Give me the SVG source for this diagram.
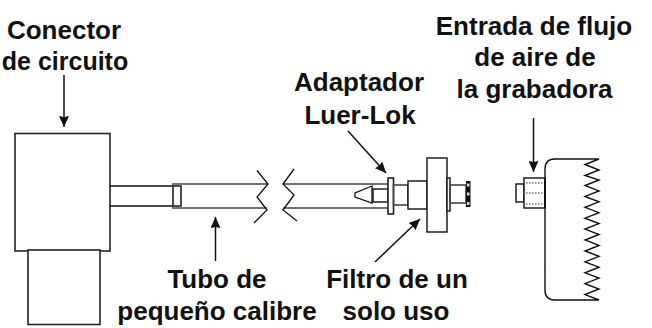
<svg xmlns="http://www.w3.org/2000/svg" width="652" height="328" viewBox="0 0 652 328">
<style>
text{font-family:"Liberation Sans",Arial,sans-serif;font-weight:700;font-size:26px;fill:#111;text-anchor:middle}
.s{fill:#fff;stroke:#111;stroke-width:1.4}
.t{fill:#fff;stroke:#222;stroke-width:1.6}
.l{fill:none;stroke:#111;stroke-width:1.3}
.w{fill:none;stroke:#444;stroke-width:1.6}
.a{fill:none;stroke:#111;stroke-width:1.5;marker-end:url(#ah)}
.d{fill:none;stroke:#333;stroke-width:1.2;stroke-dasharray:1.5 1.5}
</style>
<defs><marker id="ah" markerUnits="userSpaceOnUse" markerWidth="11" markerHeight="10" refX="11" refY="5" orient="auto"><path d="M0 0L11 5L0 10L1 5Z" fill="#111"/></marker></defs>
<g id="conector-circuito">
<rect class="t" x="15" y="133.500" width="95" height="117.500"/>
<rect class="t" x="28" y="250" width="72" height="74.500"/>
<text x="64" y="39">Conector</text><text x="65" y="70" style="font-size:25px">de circuito</text>
</g>
<g id="tubo">
<path class="l" d="M110 186H173M110 206H173"/>
<path class="w" d="M172 184H268M172 208H267M283 184H388M283 208H388"/>
<rect class="t" x="173" y="186" width="8" height="20" fill="none"/>
<path class="l" d="M257 170.500L268 184L257 197L267 210L254 223M294 169L283 184L294 195L283 210L297 221"/>
<text x="217" y="288">Tubo de</text><text x="217" y="320">pequeño calibre</text>
</g>
<g id="adaptador">
<path class="l" d="M372 186L355 193V197L372 203Z"/>
<rect class="s" x="373" y="189" width="15" height="13"/>
<rect class="t" x="388" y="178" width="5.500" height="36"/>
<text x="359" y="91">Adaptador</text><text x="360" y="124">Luer-Lok</text>
</g>
<g id="filtro">
<rect class="w" x="393.500" y="185" width="14.500" height="20"/>
<rect class="s" x="408" y="181" width="19" height="28"/>
<rect class="s" x="427" y="158" width="20" height="74"/>
<rect class="s" x="447" y="178" width="3" height="33"/>
<rect class="w" x="450" y="185" width="16" height="18"/>
<rect x="466" y="181" width="4.500" height="26" fill="#111"/>
<path d="M468.200 183.500v3M468.200 192.500v3M468.200 202v3" stroke="#ddd" stroke-width="2.500"/>
<text x="397" y="288">Filtro de un</text><text x="396" y="320">solo uso</text>
</g>
<g id="grabadora">
<path class="s" d="M599 159H555Q545 159 545 169V290Q545 300 555 300H599L585 294.600L599 289L585 283.700L599 278.100L585 272.800L599 267.200L585 261.900L599 256.300L585 251L599 245.400L585 240L599 234.500L585 229.100L599 223.600L585 218.200L599 212.700L585 207.300L599 201.800L585 196.400L599 190.900L585 185.500L599 180L585 175.500L599 170L585 164.500Z"/>
<rect class="s" x="516" y="184" width="8" height="18"/>
<rect class="s" x="524" y="178" width="21" height="30"/>
<path class="d" d="M526 183H545M526 193H545M526 204H545"/>
<path d="M545 178V208" stroke="#111" stroke-width="2"/>
<text x="534" y="34.500">Entrada de flujo</text><text x="535" y="66">de aire de</text><text x="534.500" y="98">la grabadora</text>
</g>
<g id="conectores">
<path class="a" d="M64 75V127"/>
<path class="a" d="M215.500 261V217"/>
<path class="a" d="M348 131L386 173"/>
<path class="a" d="M375 262L420 219"/>
<path class="a" d="M533.500 118V172"/>
</g>
</svg>
